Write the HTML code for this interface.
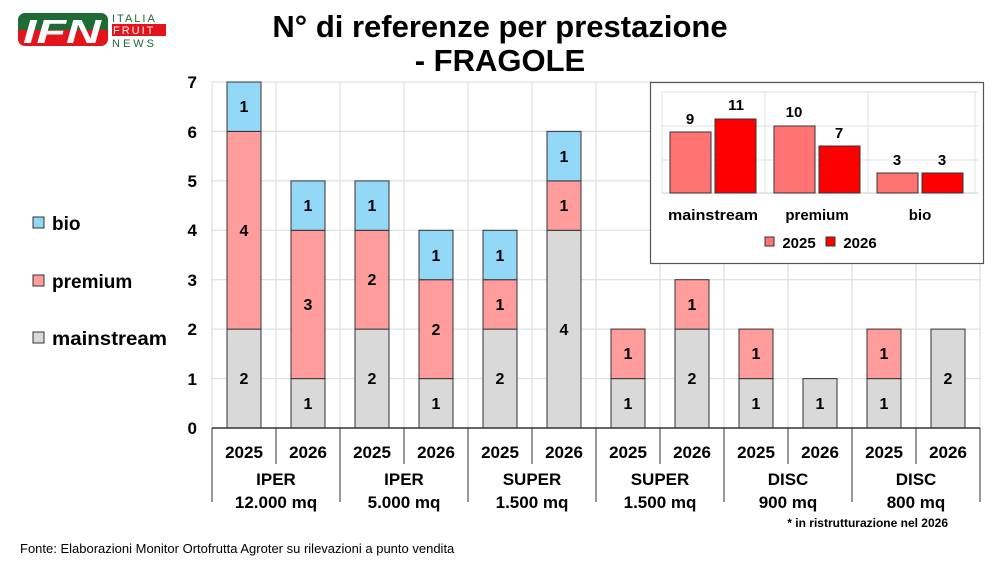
<!DOCTYPE html>
<html><head><meta charset="utf-8"><style>
body{margin:0;background:#fff;}
svg{display:block;font-family:"Liberation Sans",Arial,sans-serif;font-weight:bold;}
</style></head><body>
<svg width="1000" height="563" viewBox="0 0 1000 563">
<!-- logo -->
<rect x="18" y="13" width="90" height="17" rx="7" fill="#1e6b35"/>
<rect x="18" y="28" width="90" height="18" rx="7" fill="#e3141b"/>
<rect x="18" y="24" width="90" height="10" fill="#1e6b35"/>
<rect x="18" y="30" width="90" height="6" fill="#e3141b"/>
<text x="62" y="43" font-size="33" fill="#fff" text-anchor="middle" font-style="italic" font-weight="900" textLength="78" lengthAdjust="spacingAndGlyphs">IFN</text>
<text x="112" y="22" font-size="11" fill="#1e6b35" font-weight="normal" letter-spacing="2">ITALIA</text>
<rect x="112" y="24" width="54" height="12" fill="#e3141b"/>
<text x="113" y="34" font-size="11" fill="#fff" font-weight="normal" letter-spacing="2">FRUIT</text>
<text x="112" y="47" font-size="11" fill="#1e6b35" font-weight="normal" letter-spacing="3">NEWS</text>
<!-- title -->
<text x="500" y="37" font-size="31" text-anchor="middle">N° di referenze per prestazione</text>
<text x="500" y="71" font-size="31" text-anchor="middle">- FRAGOLE</text>
<!-- grid -->
<g stroke="#d9d9d9" stroke-width="1">
<line x1="212" x2="980" y1="82" y2="82"/><line x1="212" x2="980" y1="131.4" y2="131.4"/>
<line x1="212" x2="980" y1="180.9" y2="180.9"/><line x1="212" x2="980" y1="230.3" y2="230.3"/>
<line x1="212" x2="980" y1="279.7" y2="279.7"/><line x1="212" x2="980" y1="329.1" y2="329.1"/>
<line x1="212" x2="980" y1="378.6" y2="378.6"/>
<line x1="212" x2="212" y1="82" y2="428"/><line x1="276" x2="276" y1="82" y2="428"/>
<line x1="340" x2="340" y1="82" y2="428"/><line x1="404" x2="404" y1="82" y2="428"/>
<line x1="468" x2="468" y1="82" y2="428"/><line x1="532" x2="532" y1="82" y2="428"/>
<line x1="596" x2="596" y1="82" y2="428"/><line x1="660" x2="660" y1="82" y2="428"/>
<line x1="724" x2="724" y1="82" y2="428"/><line x1="788" x2="788" y1="82" y2="428"/>
<line x1="852" x2="852" y1="82" y2="428"/><line x1="916" x2="916" y1="82" y2="428"/>
<line x1="980" x2="980" y1="82" y2="428"/>
</g>
<!-- y labels -->
<g font-size="17" text-anchor="end">
<text x="197" y="434">0</text><text x="197" y="385">1</text><text x="197" y="335">2</text>
<text x="197" y="286">3</text><text x="197" y="236">4</text><text x="197" y="187">5</text>
<text x="197" y="138">6</text><text x="197" y="88">7</text>
</g>
<g stroke="#333" stroke-width="1">
<rect x="227" y="329.1" width="34" height="98.9" fill="#d9d9d9"/><rect x="227" y="131.4" width="34" height="197.7" fill="#ff9c9c"/><rect x="227" y="82" width="34" height="49.4" fill="#92d7f5"/>
<rect x="291" y="378.6" width="34" height="49.4" fill="#d9d9d9"/><rect x="291" y="230.3" width="34" height="148.3" fill="#ff9c9c"/><rect x="291" y="180.9" width="34" height="49.4" fill="#92d7f5"/>
<rect x="355" y="329.1" width="34" height="98.9" fill="#d9d9d9"/><rect x="355" y="230.3" width="34" height="98.8" fill="#ff9c9c"/><rect x="355" y="180.9" width="34" height="49.4" fill="#92d7f5"/>
<rect x="419" y="378.6" width="34" height="49.4" fill="#d9d9d9"/><rect x="419" y="279.7" width="34" height="98.9" fill="#ff9c9c"/><rect x="419" y="230.3" width="34" height="49.4" fill="#92d7f5"/>
<rect x="483" y="329.1" width="34" height="98.9" fill="#d9d9d9"/><rect x="483" y="279.7" width="34" height="49.4" fill="#ff9c9c"/><rect x="483" y="230.3" width="34" height="49.4" fill="#92d7f5"/>
<rect x="547" y="230.3" width="34" height="197.7" fill="#d9d9d9"/><rect x="547" y="180.9" width="34" height="49.4" fill="#ff9c9c"/><rect x="547" y="131.4" width="34" height="49.5" fill="#92d7f5"/>
<rect x="611" y="378.6" width="34" height="49.4" fill="#d9d9d9"/><rect x="611" y="329.1" width="34" height="49.5" fill="#ff9c9c"/>
<rect x="675" y="329.1" width="34" height="98.9" fill="#d9d9d9"/><rect x="675" y="279.7" width="34" height="49.4" fill="#ff9c9c"/>
<rect x="739" y="378.6" width="34" height="49.4" fill="#d9d9d9"/><rect x="739" y="329.1" width="34" height="49.5" fill="#ff9c9c"/>
<rect x="803" y="378.6" width="34" height="49.4" fill="#d9d9d9"/>
<rect x="867" y="378.6" width="34" height="49.4" fill="#d9d9d9"/><rect x="867" y="329.1" width="34" height="49.5" fill="#ff9c9c"/>
<rect x="931" y="329.1" width="34" height="98.9" fill="#d9d9d9"/>
</g>
<g font-size="16" text-anchor="middle">
<text x="244" y="384">2</text><text x="244" y="236">4</text><text x="244" y="112">1</text>
<text x="308" y="409">1</text><text x="308" y="310">3</text><text x="308" y="211">1</text>
<text x="372" y="384">2</text><text x="372" y="285">2</text><text x="372" y="211">1</text>
<text x="436" y="409">1</text><text x="436" y="335">2</text><text x="436" y="261">1</text>
<text x="500" y="384">2</text><text x="500" y="310">1</text><text x="500" y="261">1</text>
<text x="564" y="335">4</text><text x="564" y="211">1</text><text x="564" y="162">1</text>
<text x="628" y="409">1</text><text x="628" y="359">1</text>
<text x="692" y="384">2</text><text x="692" y="310">1</text>
<text x="756" y="409">1</text><text x="756" y="359">1</text>
<text x="820" y="409">1</text>
<text x="884" y="409">1</text><text x="884" y="359">1</text>
<text x="948" y="384">2</text>
</g>
<line x1="212" x2="980" y1="428" y2="428" stroke="#333" stroke-width="1.5"/>
<g stroke="#333" stroke-width="1">
<line x1="212" x2="212" y1="428" y2="502"/><line x1="340" x2="340" y1="428" y2="502"/>
<line x1="468" x2="468" y1="428" y2="502"/><line x1="596" x2="596" y1="428" y2="502"/>
<line x1="724" x2="724" y1="428" y2="502"/><line x1="852" x2="852" y1="428" y2="502"/>
<line x1="980" x2="980" y1="428" y2="502"/>
<line x1="276" x2="276" y1="428" y2="464"/><line x1="404" x2="404" y1="428" y2="464"/>
<line x1="532" x2="532" y1="428" y2="464"/><line x1="660" x2="660" y1="428" y2="464"/>
<line x1="788" x2="788" y1="428" y2="464"/><line x1="916" x2="916" y1="428" y2="464"/>
</g>
<g font-size="17" text-anchor="middle">
<text x="244" y="458">2025</text><text x="308" y="458">2026</text>
<text x="372" y="458">2025</text><text x="436" y="458">2026</text>
<text x="500" y="458">2025</text><text x="564" y="458">2026</text>
<text x="628" y="458">2025</text><text x="692" y="458">2026</text>
<text x="756" y="458">2025</text><text x="820" y="458">2026</text>
<text x="884" y="458">2025</text><text x="948" y="458">2026</text>
<text x="276" y="485">IPER</text><text x="276" y="508">12.000 mq</text>
<text x="404" y="485">IPER</text><text x="404" y="508">5.000 mq</text>
<text x="532" y="485">SUPER</text><text x="532" y="508">1.500 mq</text>
<text x="660" y="485">SUPER</text><text x="660" y="508">1.500 mq</text>
<text x="788" y="485">DISC</text><text x="788" y="508">900 mq</text>
<text x="916" y="485">DISC</text><text x="916" y="508">800 mq</text>
</g>
<text x="948" y="527" font-size="12" text-anchor="end">* in ristrutturazione nel 2026</text>
<text x="20" y="553" font-size="13" font-weight="normal">Fonte: Elaborazioni Monitor Ortofrutta Agroter su rilevazioni a punto vendita</text>
<g font-size="19">
<rect x="33" y="217" width="11" height="11" fill="#92d7f5" stroke="#333"/><text x="52" y="230">bio</text>
<rect x="33" y="275" width="11" height="11" fill="#ff9c9c" stroke="#333"/><text x="52" y="288">premium</text>
<rect x="33" y="332" width="11" height="11" fill="#d9d9d9" stroke="#333"/><text x="52" y="345" textLength="115" lengthAdjust="spacingAndGlyphs">mainstream</text>
</g>
<rect x="650.5" y="82.5" width="333" height="181" fill="#fff" stroke="#555" stroke-width="1.2"/>
<g stroke="#e0e0e0" stroke-width="1">
<line x1="662" x2="978" y1="92" y2="92"/><line x1="662" x2="978" y1="126" y2="126"/><line x1="662" x2="978" y1="160" y2="160"/>
<line x1="662" x2="662" y1="92" y2="193"/><line x1="765" x2="765" y1="92" y2="193"/><line x1="868" x2="868" y1="92" y2="193"/><line x1="975" x2="975" y1="92" y2="193"/>
</g>
<line x1="662" x2="978" y1="193" y2="193" stroke="#ccc"/>
<g stroke="#333" stroke-width="1">
<rect x="670" y="132" width="41" height="61" fill="#ff7373"/><rect x="715" y="119" width="41" height="74" fill="#ff0000"/>
<rect x="774" y="126" width="41" height="67" fill="#ff7373"/><rect x="819" y="146" width="41" height="47" fill="#ff0000"/>
<rect x="877" y="173" width="41" height="20" fill="#ff7373"/><rect x="922" y="173" width="41" height="20" fill="#ff0000"/>
</g>
<g font-size="15" text-anchor="middle">
<text x="690" y="124">9</text><text x="736" y="110">11</text>
<text x="794" y="117">10</text><text x="839" y="138">7</text>
<text x="897" y="165">3</text><text x="942" y="165">3</text>
<text x="713" y="220" textLength="90" lengthAdjust="spacingAndGlyphs">mainstream</text><text x="817" y="220">premium</text><text x="920" y="220">bio</text>
<rect x="765" y="237" width="9" height="9" fill="#ff7373" stroke="#333"/><text x="799" y="248">2025</text>
<rect x="826" y="237" width="9" height="9" fill="#ff0000" stroke="#333"/><text x="860" y="248">2026</text>
</g>
</svg>
</body></html>
